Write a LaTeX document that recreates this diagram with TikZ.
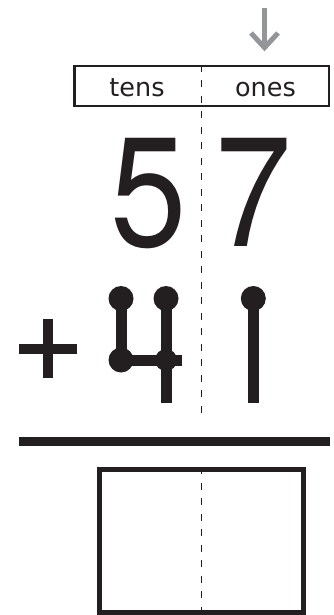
\documentclass[tikz,border=0pt]{standalone}
\usepackage{fontspec}
\newfontfamily\labelfont{DejaVu Sans}
\newfontfamily\digitfont{TeX Gyre Heros}
\definecolor{ink}{HTML}{231F20}
\definecolor{arrowgray}{HTML}{939598}
\newcommand{\narrowdigit}[1]{\scalebox{0.88}[1]{#1}}
\begin{document}
\begin{tikzpicture}[x=1pt,y=-1pt,
  frame/.style={draw=ink, line width=2.5pt, inner sep=0pt, minimum width=254.5pt, minimum height=40pt},
  answerframe/.style={draw=ink, line width=5pt, inner sep=0pt, minimum width=204pt, minimum height=143pt},
  placelabel/.style={anchor=base, inner sep=0pt, text=ink, font=\labelfont\fontsize{25.5}{30}\selectfont},
  bigdigit/.style={anchor=base, inner sep=0pt, text=ink, font=\digitfont\fontsize{156}{160}\selectfont},
  divider/.style={draw=ink, line width=1.3pt, dash pattern=on 7pt off 8.5pt},
  guide/.style={draw=ink, line width=11pt},
  plusbar/.style={draw=ink, line width=10pt},
  pointer/.style={draw=arrowgray, line width=5pt},
  rule/.style={draw=ink, line width=8.3pt}]
\useasboundingbox (0,0) rectangle (333,615);

% pointer arrow
\coordinate (arrtop) at (264.5,8);
\coordinate (arrtip) at (264.5,47.6);
\coordinate (arrl) at (251,33);
\coordinate (arrr) at (278,33);
\draw[pointer] (arrtop) -- (arrtip);
\draw[pointer, miter limit=10] (arrl) -- (arrtip) -- (arrr);

% place value box
\node[frame] (placebox) at (201.5,86) {};
\node[placelabel] (tens) at (137,96.7) {tens};
\node[placelabel] (ones) at (265.5,96.7) {ones};

% divider
\coordinate (divend) at (201.5,420);
\draw[divider] (placebox.north) -- (divend);

% digits
\node[bigdigit] (five) at (148.5,246) {\narrowdigit{5}};
\node[bigdigit] (seven) at (253.5,246) {\narrowdigit{7}};

% plus
\coordinate (pl) at (19,348.7);
\coordinate (pr) at (77.3,348.7);
\coordinate (pt) at (48.3,319);
\coordinate (pb) at (48.3,378.3);
\draw[plusbar] (pl) -- (pr);
\draw[plusbar] (pt) -- (pb);

% four
\coordinate (fa) at (121,298.5);
\coordinate (fb) at (121,360);
\coordinate (fc) at (166,298.5);
\coordinate (fd) at (166,360);
\coordinate (fe) at (166,403.3);
\coordinate (ff) at (182,360);
\draw[guide] (fa) -- (fb) -- (ff);
\draw[guide] (fc) -- (fe);
\fill[ink] (fa) circle (12.5) (fb) circle (12.5) (fc) circle (12.5) (fd) circle (11);

% one
\coordinate (oa) at (253.3,298.5);
\coordinate (ob) at (253.3,403.3);
\draw[guide] (oa) -- (ob);
\fill[ink] (oa) circle (12.5);

% rule
\coordinate (rl) at (19,441.5);
\coordinate (rr) at (330,441.5);
\draw[rule] (rl) -- (rr);

% answer box
\node[answerframe] (answerbox) at (201.5,541) {};
\draw[divider] (answerbox.north) -- (answerbox.south);
\end{tikzpicture}
\end{document}
